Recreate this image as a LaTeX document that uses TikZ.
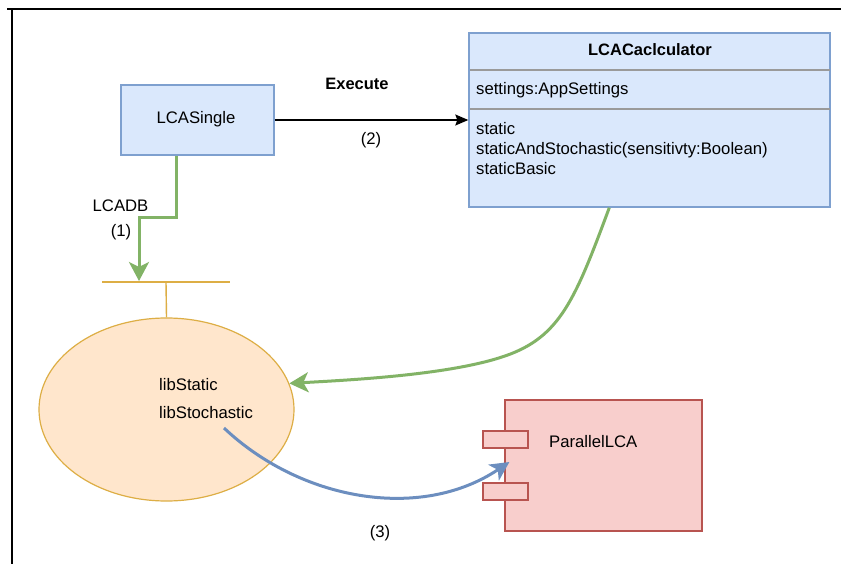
\documentclass[tikz,border=0pt]{standalone}
\usepackage{fontspec}
\setmainfont{Liberation Sans}
\usetikzlibrary{arrows.meta,shapes.geometric,calc}

\definecolor{blueFill}{HTML}{DAE8FC}
\definecolor{blueLine}{HTML}{7EA0CF}
\definecolor{blueFlow}{HTML}{6C8EBF}
\definecolor{greenLine}{HTML}{82B366}
\definecolor{orangeFill}{HTML}{FFE6CC}
\definecolor{goldLine}{HTML}{DDAE45}
\definecolor{redFill}{HTML}{F8CECC}
\definecolor{redLine}{HTML}{B85450}
\definecolor{sepGray}{HTML}{9A9A9A}

\tikzset{
  classbox/.style={draw=blueLine, fill=blueFill, line width=1.4pt, inner sep=0pt},
  lbl/.style={inner sep=0pt, text=black, anchor=base},
  lblw/.style={inner sep=0pt, text=black, anchor=base west},
  boldtxt/.style={font=\fontsize{16.5}{19}\selectfont\bfseries},
  greenflow/.style={draw=greenLine, line width=3pt, -{Stealth[length=19pt,width=20pt,inset=5pt]}},
  blueflow/.style={draw=blueFlow, line width=3pt, -{Stealth[length=19pt,width=19pt,inset=5pt]}},
  portbox/.style={draw=redLine, fill=redFill, line width=1.2pt, minimum width=45pt, minimum height=17pt, inner sep=0pt},
}

\begin{document}
\begin{tikzpicture}[x=1pt, y=-1pt, font=\fontsize{16.7}{19}\selectfont]
  \useasboundingbox (0,0) rectangle (841,564);
  \fill[white] (0,0) rectangle (841,564);

  % frame
  \draw[line width=2pt] (7,9) -- (841,9);
  \draw[line width=2pt] (12,9) -- (12,564);

  % LCASingle
  \node[classbox, minimum width=153pt, minimum height=70pt] (single) at (197.5,120) {};
  \node[lbl] (singleLbl) at (196,124) {LCASingle};

  % LCACaclculator class
  \node[classbox, minimum width=361pt, minimum height=174pt] (calc) at (649.5,120) {};
  \draw[sepGray, line width=1.4pt] (469.5,70) -- (829.5,70);
  \draw[sepGray, line width=1.4pt] (469.5,109) -- (829.5,109);
  \node[lbl, boldtxt] (calcTitle) at (650,56) {LCACaclculator};
  \node[lblw] (calcAttr) at (476,95) {settings:AppSettings};
  \node[lblw] (calcM1) at (476,135) {static};
  \node[lblw] (calcM2) at (476,155) {staticAndStochastic(sensitivty:Boolean)};
  \node[lblw] (calcM3) at (476,175) {staticBasic};

  % Execute call
  \draw[line width=1.2pt, -{Stealth[length=13pt,width=11pt,inset=2pt]}] (single.east) -- (calc.west);
  \node[lbl, boldtxt] (execLbl) at (357,90) {Execute};
  \node[lbl] (twoLbl) at (371,145) {(2)};

  % library with its interface bar
  \node[draw=goldLine, fill=orangeFill, line width=1.2pt, ellipse, minimum width=255pt, minimum height=183pt, inner sep=0pt] (lib) at (166.5,409.5) {};
  \coordinate (barMid) at (166,282);
  \draw[goldLine, line width=1.4pt] (102,282) -- (230,282);
  \draw[goldLine, line width=1.4pt] (barMid) -- (lib.north);
  \node[lblw] (libA) at (159,390) {libStatic};
  \node[lblw] (libB) at (159,418) {libStochastic};

  % LCADB link
  \coordinate (dbStart) at ($(single.south west)+(56,0)$);
  \draw[greenflow] (dbStart) -- ++(0,62) -| ($(barMid)+(-27,-1)$);
  \node[lbl] (dbLbl) at (120.5,212) {LCADB};
  \node[lbl] (oneLbl) at (121,237) {(1)};

  % ParallelLCA component
  \node[draw=redLine, fill=redFill, line width=1.2pt, minimum width=197pt, minimum height=131pt, inner sep=0pt] (par) at (603.5,465.5) {};
  \node[portbox] (port1) at (505.5,439.5) {};
  \node[portbox] (port2) at (505.5,491.5) {};
  \node[lblw] (parLbl) at (549,447) {ParallelLCA};

  % calculator uses the library
  \coordinate (calcOut) at ($(calc.south west)+(141,0)$);
  \draw[greenflow] (calcOut) .. controls (575,300) and (560,337) .. (505,356)
        .. controls (450,375) and (350,380) .. (lib.12);

  % library hands over to ParallelLCA
  \coordinate (libOut) at ($(lib.center)+(57.5,18.5)$);
  \coordinate (parIn) at ($(par.west)+(5,-3.5)$);
  \draw[blueflow] (libOut) .. controls (300,500) and (420,522) .. (parIn);
  \node[lbl] (threeLbl) at (380,537) {(3)};
\end{tikzpicture}
\end{document}
